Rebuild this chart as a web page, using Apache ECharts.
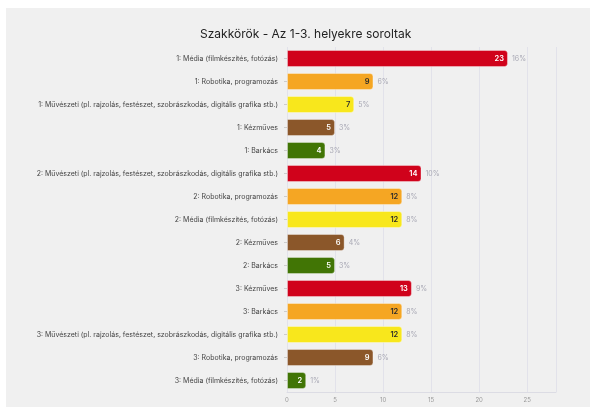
<!DOCTYPE html>
<html>
<head>
<meta charset="utf-8">
<script src="https://cdn.jsdelivr.net/npm/echarts@6/dist/echarts.min.js"></script>
<style>
  html, body { margin: 0; padding: 0; background: #ffffff; }
  #chart {
    position: absolute;
    left: 6px;
    top: 8px;
    width: 584px;
    height: 399px;
    background: #f0f0f0;
  }
</style>
</head>
<body>
<div id="chart"></div>
<script>
var categories = [
  "1: Média (filmkészítés, fotózás)",
  "1: Robotika, programozás",
  "1: Művészeti (pl. rajzolás, festészet, szobrászkodás, digitális grafika stb.)",
  "1: Kézműves",
  "1: Barkács",
  "2: Művészeti (pl. rajzolás, festészet, szobrászkodás, digitális grafika stb.)",
  "2: Robotika, programozás",
  "2: Média (filmkészítés, fotózás)",
  "2: Kézműves",
  "2: Barkács",
  "3: Kézműves",
  "3: Barkács",
  "3: Művészeti (pl. rajzolás, festészet, szobrászkodás, digitális grafika stb.)",
  "3: Robotika, programozás",
  "3: Média (filmkészítés, fotózás)"
];
var counts = [23, 9, 7, 5, 4, 14, 12, 12, 6, 5, 13, 12, 12, 9, 2];
var percents = ["16%", "6%", "5%", "3%", "3%", "10%", "8%", "8%", "4%", "3%", "9%", "8%", "8%", "6%", "1%"];
// rank colours repeat every five bars
var palette = ["#d0021b", "#f5a623", "#f8e71c", "#8b572a", "#417505"];
var labelInk = ["#ffffff", "#2b2b2b", "#2b2b2b", "#ffffff", "#ffffff"];

var font = "Inter, 'DejaVu Sans', sans-serif";

var barData = counts.map(function (v, i) {
  return {
    value: v,
    itemStyle: { color: palette[i % 5] },
    label: { color: labelInk[i % 5] }
  };
});

var chart = echarts.init(document.getElementById("chart"));
var option = {
  animation: false,
  title: {
    text: "Szakkörök - Az 1-3. helyekre soroltak",
    left: 189,
    top: 15,
    textStyle: { fontFamily: font, fontSize: 12, fontWeight: "normal", color: "#222222" }
  },
  grid: { left: 281, right: 34, top: 39, bottom: 15 },
  xAxis: {
    type: "value",
    min: 0,
    max: 28,
    interval: 5,
    axisLine: { show: true, lineStyle: { color: "#dcdce4" } },
    axisTick: { show: false },
    splitLine: { show: true, lineStyle: { color: "#e2e2ea" } },
    axisLabel: { fontFamily: font, fontSize: 6, color: "#999999", margin: 5, showMaxLabel: false }
  },
  yAxis: {
    type: "category",
    inverse: true,
    data: categories,
    axisLine: { show: false },
    axisTick: { show: true, length: 3, alignWithLabel: true, lineStyle: { color: "#cccccc" } },
    axisLabel: { fontFamily: font, fontSize: 7, color: "#444444", margin: 9 }
  },
  series: [
    {
      type: "bar",
      data: barData,
      barWidth: 17,
      itemStyle: { borderRadius: [0, 3, 3, 0], borderColor: "rgba(255,255,255,0.35)", borderWidth: 1 },
      label: {
        show: true,
        position: "insideRight",
        distance: 4,
        fontFamily: font,
        fontSize: 7.5,
        fontWeight: 600
      }
    },
    {
      type: "bar",
      data: counts,
      barWidth: 17,
      barGap: "-100%",
      itemStyle: { color: "rgba(0,0,0,0)" },
      silent: true,
      label: {
        show: true,
        position: "right",
        distance: 4,
        fontFamily: font,
        fontSize: 7,
        color: "#a8a8b4",
        formatter: function (p) { return percents[p.dataIndex]; }
      }
    }
  ]
};
chart.setOption(option);
</script>
</body>
</html>
